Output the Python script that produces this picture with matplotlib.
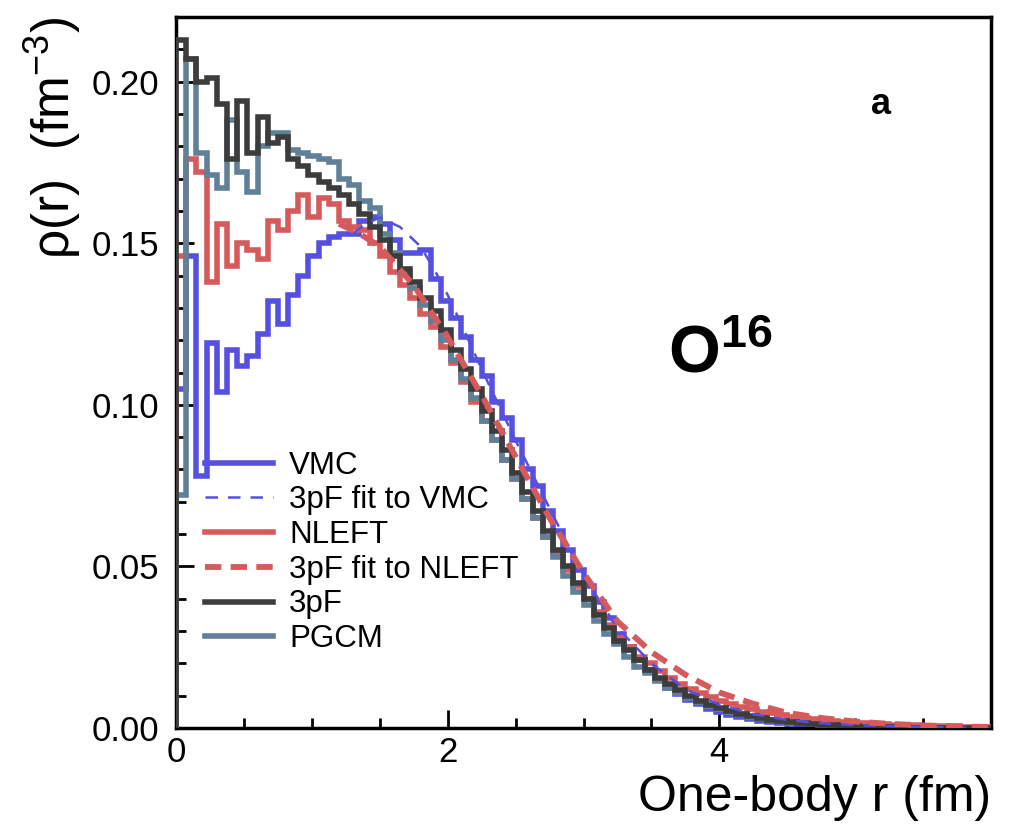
import numpy as np
import matplotlib
matplotlib.use("Agg")
from matplotlib import pyplot as plt

plt.rcParams["font.family"] = ["Liberation Sans", "DejaVu Sans"]
plt.rcParams["mathtext.fontset"] = "custom"
plt.rcParams["mathtext.rm"] = "Liberation Sans"
plt.rcParams["mathtext.it"] = "Liberation Sans:italic"
plt.rcParams["mathtext.bf"] = "Liberation Sans:bold"

# histogram binning (fm)
r_edges = np.arange(0, 6.0001, 0.075)

# one-body densities per bin (fm^-3)
vmc = [0.105, 0.146, 0.078, 0.119, 0.104, 0.117, 0.112, 0.115, 0.122, 0.132,
       0.125, 0.134, 0.140, 0.146, 0.150, 0.152, 0.153, 0.153, 0.157, 0.158,
       0.156, 0.151, 0.147, 0.147, 0.148, 0.139, 0.132, 0.127, 0.121, 0.114,
       0.109, 0.101, 0.096, 0.089, 0.080, 0.075, 0.067, 0.061, 0.055, 0.049,
       0.044, 0.039, 0.034, 0.029, 0.025, 0.021, 0.018, 0.015, 0.0125, 0.0105,
       0.0088, 0.0073, 0.0060, 0.0050, 0.0041, 0.0034, 0.0028, 0.0023, 0.0019, 0.0015,
       0.0012, 0.0010, 0.0008, 0.0006, 0.0005, 0.0004, 0.0003, 0.0003, 0.0002, 0.0002,
       0.0001, 0.0001, 0.0001, 0.0001, 0.0001, 0.0, 0.0, 0.0, 0.0, 0.0]

nleft = [0.146, 0.176, 0.172, 0.138, 0.156, 0.143, 0.150, 0.148, 0.145, 0.157,
         0.154, 0.160, 0.165, 0.158, 0.164, 0.162, 0.157, 0.155, 0.154, 0.150,
         0.146, 0.141, 0.137, 0.133, 0.128, 0.124, 0.118, 0.113, 0.107, 0.101,
         0.095, 0.089, 0.083, 0.077, 0.071, 0.065, 0.059, 0.054, 0.049, 0.044,
         0.040, 0.036, 0.032, 0.028, 0.025, 0.022, 0.020, 0.0175, 0.0155, 0.0137,
         0.0121, 0.0107, 0.0095, 0.0084, 0.0074, 0.0066, 0.0058, 0.0051, 0.0045, 0.0040,
         0.0035, 0.0031, 0.0027, 0.0024, 0.0021, 0.0019, 0.0017, 0.0015, 0.0013, 0.0011,
         0.0010, 0.0009, 0.0008, 0.0007, 0.0006, 0.0005, 0.0005, 0.0004, 0.0004, 0.0003]

tpf = [0.213, 0.207, 0.200, 0.201, 0.193, 0.176, 0.194, 0.178, 0.189, 0.181,
       0.183, 0.176, 0.174, 0.171, 0.169, 0.167, 0.165, 0.162, 0.159, 0.155,
       0.151, 0.146, 0.142, 0.138, 0.133, 0.129, 0.123, 0.117, 0.111, 0.105,
       0.098, 0.092, 0.086, 0.079, 0.073, 0.067, 0.061, 0.055, 0.050, 0.045,
       0.040, 0.035, 0.031, 0.027, 0.024, 0.021, 0.018, 0.0155, 0.0135, 0.0117,
       0.0100, 0.0085, 0.0072, 0.0061, 0.0052, 0.0044, 0.0037, 0.0031, 0.0026, 0.0022,
       0.0018, 0.0015, 0.0012, 0.0010, 0.0008, 0.0007, 0.0005, 0.0004, 0.0003, 0.0003,
       0.0002, 0.0002, 0.0001, 0.0001, 0.0001, 0.0001, 0.0001, 0.0, 0.0, 0.0]

pgcm = [0.072, 0.207, 0.178, 0.171, 0.167, 0.188, 0.172, 0.166, 0.180, 0.184,
        0.184, 0.179, 0.178, 0.177, 0.176, 0.175, 0.170, 0.168, 0.163, 0.161,
        0.153, 0.147, 0.141, 0.136, 0.131, 0.126, 0.120, 0.114, 0.108, 0.102,
        0.095, 0.089, 0.083, 0.077, 0.071, 0.065, 0.059, 0.053, 0.047, 0.042,
        0.038, 0.033, 0.029, 0.026, 0.022, 0.019, 0.017, 0.0145, 0.0125, 0.0108,
        0.0093, 0.0080, 0.0068, 0.0058, 0.0049, 0.0042, 0.0035, 0.0030, 0.0025, 0.0021,
        0.0017, 0.0014, 0.0012, 0.0010, 0.0008, 0.0007, 0.0005, 0.0004, 0.0003, 0.0003,
        0.0002, 0.0002, 0.0001, 0.0001, 0.0001, 0.0001, 0.0001, 0.0, 0.0, 0.0]

r_fit_vmc = [1.3, 1.4, 1.5, 1.65, 1.8, 1.9, 2.0, 2.1, 2.25,
             2.5, 2.75, 3.0, 3.25, 3.5, 3.75, 4.0, 4.25, 4.5, 4.75, 5.0, 5.5, 6.0]
fit_vmc = [0.153, 0.156, 0.158, 0.155, 0.149, 0.142, 0.134,
           0.125, 0.111, 0.089, 0.068, 0.047, 0.031, 0.020, 0.012, 0.0072, 0.0043,
           0.0025, 0.0015, 0.0009, 0.0003, 0.0001]

r_fit_nleft = [1.2, 1.35, 1.5, 1.75, 2.0, 2.25, 2.5, 2.75, 3.0, 3.25, 3.5,
               3.75, 4.0, 4.25, 4.5, 4.75, 5.0, 5.25, 5.5, 5.75, 6.0]
fit_nleft = [0.156, 0.153, 0.149, 0.137, 0.121, 0.103, 0.084, 0.065, 0.048,
             0.033, 0.0235, 0.0165, 0.011, 0.0075, 0.0047, 0.0031, 0.0020, 0.0013,
             0.0008, 0.0005, 0.0003]

c_vmc = "#5650e0"
c_nleft = "#d65a5c"
c_tpf = "#3c3c3c"
c_pgcm = "#5f8097"

fig = plt.figure(figsize=(10.26, 8.36), dpi=100)
ax = fig.add_axes([176 / 1026, 1 - 728 / 836, 815 / 1026, 711 / 836])

lw_h = 4.0
ax.stairs(vmc, r_edges, color=c_vmc, lw=lw_h, label="VMC", zorder=2)
ax.plot(r_fit_vmc, fit_vmc, color=c_vmc, lw=1.8, ls=(0, (5, 4)),
        label="3pF fit to VMC", zorder=6)
ax.stairs(nleft, r_edges, color=c_nleft, lw=lw_h, label="NLEFT", zorder=3)
ax.plot(r_fit_nleft, fit_nleft, color=c_nleft, lw=4.2, ls=(0, (2.8, 1.6)),
        label="3pF fit to NLEFT", zorder=7)
ax.stairs(tpf, r_edges, color=c_tpf, lw=lw_h, label="3pF", zorder=5)
ax.stairs(pgcm, r_edges, color=c_pgcm, lw=lw_h, label="PGCM", zorder=4)

ax.set_xlim(0, 6)
ax.set_ylim(0, 0.22)
ax.set_xticks([0, 2, 4])
ax.set_xticks(np.arange(0, 6.01, 0.5), minor=True)
ax.set_yticks([0.0, 0.05, 0.10, 0.15, 0.20])
ax.set_yticks(np.arange(0, 0.2201, 0.01), minor=True)
ax.set_yticklabels(["0.00", "0.05", "0.10", "0.15", "0.20"])
ax.tick_params(which="both", direction="in", top=False, right=False,
               labelsize=25, width=2)
ax.tick_params(which="major", length=13, pad=6)
ax.tick_params(which="minor", length=7)
ax.tick_params(axis="y", pad=12)
for s in ax.spines.values():
    s.set_linewidth(2.5)

ax.set_xlabel("One-body r (fm)", fontsize=36, loc="right", labelpad=4)
ax.set_ylabel("ρ(r)  (fm$^{-3}$)", fontsize=37, loc="top", labelpad=6)

ax.text(5.12, 0.190, "a", fontsize=26, fontweight="bold")
ax.text(3.62, 0.110, r"$\mathbf{O^{16}}$", fontsize=48)

ax.legend(loc="upper left", bbox_to_anchor=(0.035, 0.39), frameon=False,
          fontsize=22.5, handlelength=2.2, handletextpad=0.5, labelspacing=0.15,
          borderaxespad=0, borderpad=0)

fig.savefig("out.png", dpi=100)
